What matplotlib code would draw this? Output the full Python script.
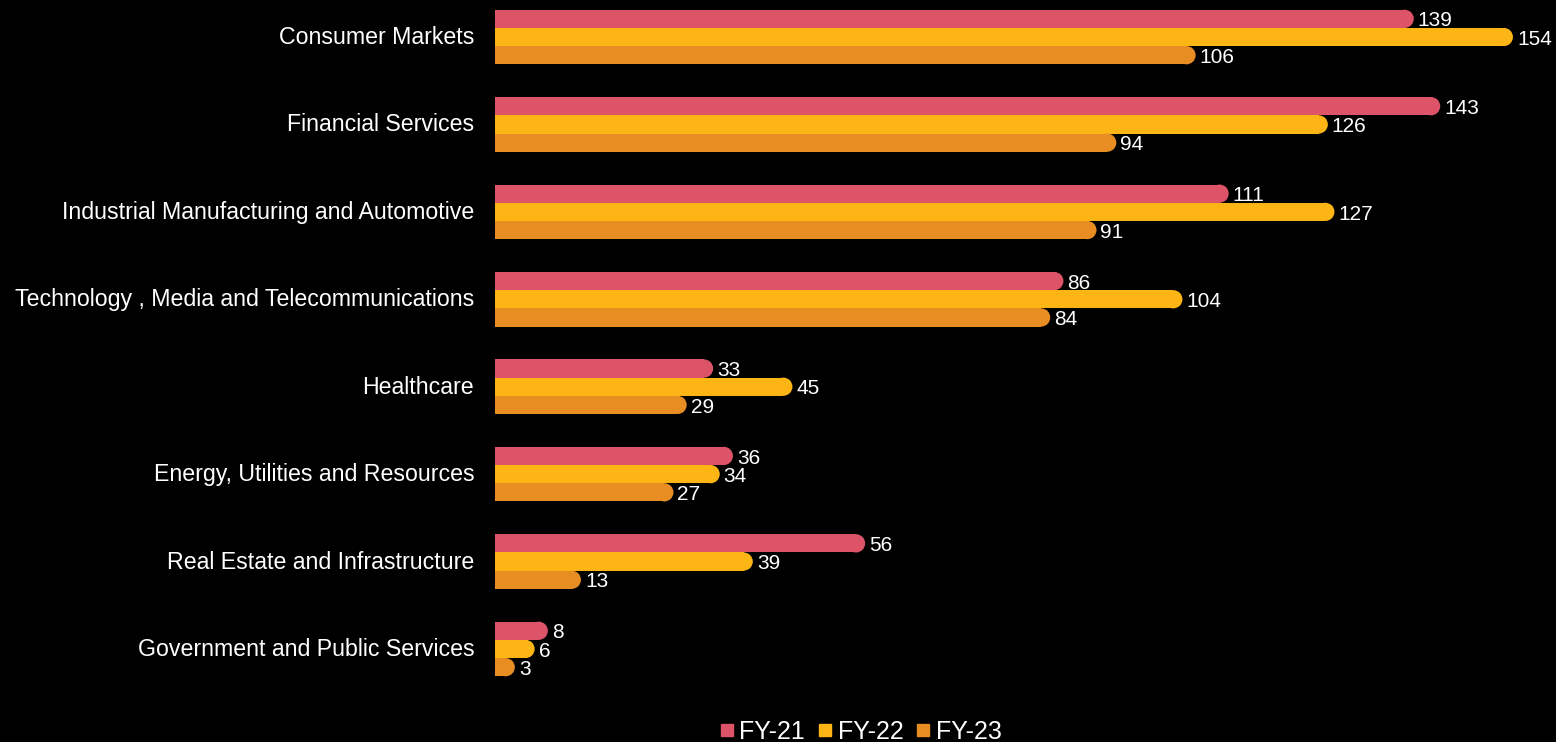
import matplotlib
matplotlib.use("Agg")
import matplotlib.pyplot as plt
import matplotlib.transforms as mtransforms
from matplotlib.patches import Rectangle, Ellipse
from matplotlib.lines import Line2D

plt.rcParams['font.family'] = ['Liberation Sans', 'DejaVu Sans']

categories = ["Consumer Markets", "Financial Services", "Industrial Manufacturing and Automotive",
              "Technology , Media and Telecommunications", "Healthcare",
              "Energy, Utilities and Resources", "Real Estate and Infrastructure",
              "Government and Public Services"]
series_names = ["FY-21", "FY-22", "FY-23"]
fy21 = [139, 143, 111, 86, 33, 36, 56, 8]
fy22 = [154, 126, 127, 104, 45, 34, 39, 6]
fy23 = [106, 94, 91, 84, 29, 27, 13, 3]
colors = ["#DD5468", "#FDB515", "#E88D22"]

W, H = 1556, 742
fig = plt.figure(figsize=(W/100, H/100), dpi=100, facecolor="black")
ax_left, ax_right = 495, 1540
ax_top, ax_bot = 0, 700
ax = fig.add_axes([ax_left/W, 1 - ax_bot/H, (ax_right-ax_left)/W, (ax_bot-ax_top)/H])
ax.set_facecolor("black")

px_per_unit = 6.61
xmax = (ax_right - ax_left) / px_per_unit
spacing = 87.4
ylim_top = -37/spacing
ylim_bot = 7 + (ax_bot - 649)/spacing
ax.set_xlim(0, xmax)
ax.set_ylim(ylim_bot, ylim_top)

bh = 18.2/spacing  # bar height in data
r_x = 9.1/px_per_unit  # radius in x data units

for s, (vals, col) in enumerate(zip([fy21, fy22, fy23], colors)):
    for i, v in enumerate(vals):
        yc = i + (s - 1) * bh
        rect_w = max(v - r_x, 0)
        ax.add_patch(Rectangle((0, yc - bh/2), rect_w, bh, facecolor=col, edgecolor='none'))
        ax.add_patch(Ellipse((rect_w, yc), 2*r_x, bh, facecolor=col, edgecolor='none'))
        ax.text(v + 0.6, yc + 0.025, str(v), color="white", fontsize=15, va="center", ha="left")

ax.set_yticks(range(len(categories)))
ax.set_yticklabels(categories, color="white", fontsize=16.7)
ax.tick_params(axis='y', length=0, pad=15)
offset = mtransforms.ScaledTranslation(0, 2/100, fig.dpi_scale_trans)
for lbl in ax.get_yticklabels():
    lbl.set_transform(lbl.get_transform() + offset)
ax.set_xticks([])
for sp in ax.spines.values():
    sp.set_visible(False)

handles = [Line2D([], [], marker='s', linestyle='none', markersize=9, color=c) for c in colors]
fig.legend(handles, series_names, loc='center', bbox_to_anchor=(858/W, 1 - 732/H), ncol=3,
           frameon=False, fontsize=18, labelcolor="white", handletextpad=0.0,
           columnspacing=0.3, handlelength=1.0)

fig.savefig("out.png", dpi=100, facecolor="black")
